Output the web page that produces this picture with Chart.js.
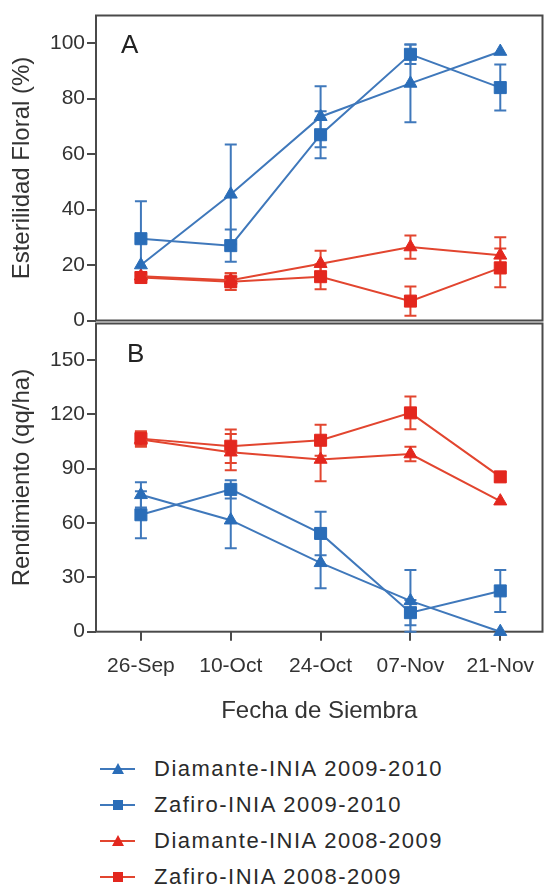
<!DOCTYPE html>
<html><head><meta charset="utf-8">
<script src="https://cdn.jsdelivr.net/npm/chart.js@4"></script>
<style>
html,body{margin:0;padding:0;background:#fff;width:552px;height:887px;overflow:hidden;font-family:'Liberation Sans',Arial,sans-serif;}
#wrapA{position:absolute;left:0;top:0;width:552px;height:330px;}
#wrapB{position:absolute;left:0;top:0;width:552px;height:740px;}
.row{position:absolute;left:100px;height:30px;display:flex;align-items:center;white-space:nowrap;}
.row span{margin-left:18px;font-size:22px;letter-spacing:1.5px;color:#2a2a2a;}
</style></head><body>
<div id="wrapB"><canvas id="cB"></canvas></div>
<div id="wrapA"><canvas id="cA"></canvas></div>
<div id="legend"></div>
<script>
// ---- data ----
const categories = ['26-Sep','10-Oct','24-Oct','07-Nov','21-Nov'];
const seriesNames = ['Diamante-INIA 2009-2010','Zafiro-INIA 2009-2010','Diamante-INIA 2008-2009','Zafiro-INIA 2008-2009'];
const seriesMarkers = ['triangle','rect','triangle','rect'];

// Panel A: Esterilidad Floral (%)
const diamante0910A = [20, 45.5, 73.5, 85.5, 97];
const diamante0910A_err = [0, 18, 11, 14, 0];
const zafiro0910A = [29.5, 27, 67, 96, 84];
const zafiro0910A_err = [13.5, 5.8, 8.5, 3.5, 8.3];
const diamante0809A = [16, 14.5, 20.5, 26.5, 23.5];
const diamante0809A_err = [1.5, 2.5, 4.7, 4.2, 6.5];
const zafiro0809A = [15.5, 14, 15.8, 7, 19];
const zafiro0809A_err = [1.5, 3, 4.5, 5.3, 7];

// Panel B: Rendimiento (qq/ha)
const diamante0910B = [75.5, 61.5, 38, 17, 0];
const diamante0910B_err = [7, 15.5, 14, 17, 0];
const zafiro0910B = [64.5, 78.5, 54.2, 10.5, 22.5];
const zafiro0910B_err = [13, 5, 12, 7, 11.6];
const diamante0809B = [106, 99, 95, 98, 72];
const diamante0809B_err = [4, 10, 12, 4, 0];
const zafiro0809B = [106.5, 102.3, 105.6, 120.7, 85.4];
const zafiro0809B_err = [4, 9.3, 8.5, 9, 2.5];

const yTicksA = [0, 20, 40, 60, 80, 100];
const yTicksB = [0, 30, 60, 90, 120, 150];

// ---- styles ----
const BLUE = '#2a6db8', BLUE_LINE = '#3f78bb';
const RED = '#e3271e', RED_LINE = '#e2452f';
const seriesColors = [BLUE, BLUE, RED, RED];
const lineColors = [BLUE_LINE, BLUE_LINE, RED_LINE, RED_LINE];
const FONT = "'Liberation Sans', Arial, sans-serif";
const TXT = '#333333';
const AXIS = '#4a4a4a';

function makeDatasets(vals, errs) {
  return vals.map((arr, k) => ({
    label: seriesNames[k],
    data: arr.map((v, i) => ({x: i, y: v})),
    errors: errs[k],
    borderColor: lineColors[k],
    backgroundColor: seriesColors[k],
    pointBackgroundColor: seriesColors[k],
    pointBorderColor: seriesColors[k],
    pointBorderWidth: 1,
    pointStyle: seriesMarkers[k],
    pointRadius: seriesMarkers[k] === 'rect' ? 8.5 : 7.5,
    borderWidth: 2,
    tension: 0,
    clip: false
  }));
}

const errorBars = {
  id: 'errorBars',
  beforeDatasetsDraw(chart) {
    const ctx = chart.ctx;
    const ys = chart.scales.y, xs = chart.scales.x;
    chart.data.datasets.forEach(ds => {
      ds.data.forEach((p, i) => {
        const e = ds.errors[i];
        if (!e) return;
        const x = xs.getPixelForValue(p.x);
        const y1 = ys.getPixelForValue(p.y + e);
        const y2 = ys.getPixelForValue(Math.max(0, p.y - e));
        ctx.save();
        ctx.strokeStyle = ds.borderColor;
        ctx.lineWidth = 2;
        ctx.beginPath();
        ctx.moveTo(x, y1); ctx.lineTo(x, y2);
        ctx.moveTo(x - 6, y1); ctx.lineTo(x + 6, y1);
        ctx.moveTo(x - 6, y2); ctx.lineTo(x + 6, y2);
        ctx.stroke();
        ctx.restore();
      });
    });
  }
};

const frame = {
  id: 'frame',
  beforeDatasetsDraw(chart, args, opts) {
    const {ctx, chartArea: a} = chart;
    ctx.save();
    ctx.strokeStyle = AXIS;
    ctx.lineWidth = 2;
    ctx.strokeRect(a.left, a.top, a.right - a.left, a.bottom - a.top);
    ctx.fillStyle = '#222';
    ctx.font = "26px " + FONT;
    ctx.textBaseline = 'alphabetic';
    ctx.textAlign = 'left';
    ctx.fillText(opts.label, a.left + opts.dx, a.top + opts.dy);
    ctx.restore();
  }
};

function makePanel(id, datasets, yTicks, yMax, yTitle, panelLabel, showX, pad, lab) {
  return new Chart(document.getElementById(id), {
    type: 'line',
    data: {datasets},
    plugins: [frame, errorBars],
    options: {
      responsive: true, maintainAspectRatio: false, animation: false,
      layout: {padding: pad},
      plugins: {legend: {display: false}, tooltip: {enabled: false},
        frame: {label: panelLabel, dx: lab[0], dy: lab[1]}},
      scales: {
        x: {
          type: 'linear', min: -0.5, max: 4.47, display: showX,
          afterBuildTicks: s => { s.ticks = categories.map((c, i) => ({value: i})); },
          ticks: {callback: v => categories[v], font: {size: 21, family: FONT}, color: TXT, padding: 13, autoSkip: false, maxRotation: 0},
          grid: {drawOnChartArea: false, tickLength: 9, color: AXIS, lineWidth: 2},
          border: {display: false},
          title: {display: true, text: 'Fecha de Siembra', font: {size: 24, family: FONT}, color: TXT, padding: {top: 0, bottom: 6}},
          afterFit: s => { s.height = showX ? 100 : 0; s.paddingLeft = 0; s.paddingRight = 0; }
        },
        y: {
          min: 0, max: yMax,
          afterBuildTicks: s => { s.ticks = yTicks.map(v => ({value: v})); },
          ticks: {font: {size: 21, family: FONT, lineHeight: 0.2}, color: TXT, padding: 2},
          grid: {drawOnChartArea: false, tickLength: 9, color: AXIS, lineWidth: 2},
          border: {display: false},
          title: {display: true, text: yTitle, font: {size: 24, family: FONT}, color: TXT, padding: {top: 8, bottom: 0}},
          afterFit: s => { s.width = 96; s.paddingTop = 0; s.paddingBottom = 0; }
        }
      }
    }
  });
}

makePanel('cA',
  makeDatasets([diamante0910A, zafiro0910A, diamante0809A, zafiro0809A],
               [diamante0910A_err, zafiro0910A_err, diamante0809A_err, zafiro0809A_err]),
  yTicksA, 110, 'Esterilidad Floral (%)', 'A', false,
  {left: 0, right: 1, top: 15.5, bottom: 6.5}, [25, 37.5]);

makePanel('cB',
  makeDatasets([diamante0910B, zafiro0910B, diamante0809B, zafiro0809B],
               [diamante0910B_err, zafiro0910B_err, diamante0809B_err, zafiro0809B_err]),
  yTicksB, 170, 'Rendimiento (qq/ha)', 'B', true,
  {left: 0, right: 1, top: 323.5, bottom: 8.3}, [31, 38.5]);

// ---- legend (HTML) ----
const legendRowsY = [769, 805, 841, 877];
const leg = document.getElementById('legend');
seriesNames.forEach((name, k) => {
  const row = document.createElement('div');
  row.className = 'row';
  row.style.top = (legendRowsY[k] - 15) + 'px';
  const c = seriesColors[k], lc = lineColors[k];
  const marker = seriesMarkers[k] === 'rect'
    ? `<rect x="13" y="10" width="10" height="10" fill="${c}"/>`
    : `<polygon points="18,9 24,20 12,20" fill="${c}"/>`;
  row.innerHTML = `<svg width="36" height="30" viewBox="0 0 36 30"><line x1="0" y1="15" x2="35" y2="15" stroke="${lc}" stroke-width="2"/>${marker}</svg><span>${name}</span>`;
  leg.appendChild(row);
});
</script>
</body></html>
